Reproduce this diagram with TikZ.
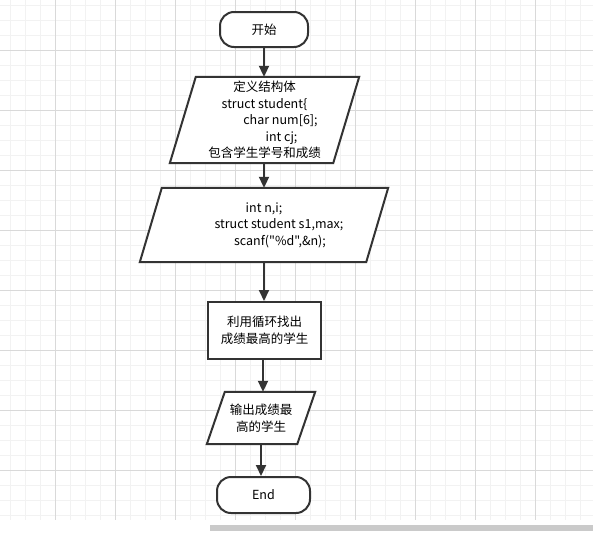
\documentclass[tikz,border=0pt]{standalone}
\usepackage{fontspec}
\newfontfamily\cjkfont{Noto Sans CJK SC}
\usetikzlibrary{arrows.meta}
\pgfdeclarelayer{bg}
\pgfdeclarelayer{mid}
\pgfsetlayers{bg,mid,main}
\definecolor{ink}{HTML}{333333}
\definecolor{gminor}{HTML}{F2F2F2}
\definecolor{gmajor}{HTML}{D9D9D9}
\definecolor{sbar}{HTML}{CACACA}
\begin{document}
\begin{tikzpicture}[x=1pt,y=-1pt,
  font=\cjkfont\fontsize{12.5}{16.5}\selectfont,
  term/.style={draw=ink, line width=2pt, fill=white, rounded corners=14pt, inner sep=0pt},
  box/.style={draw=ink, line width=2pt, fill=white, inner sep=0pt, align=center},
  plain/.style={inner sep=0pt, align=center},
  flow/.style={draw=ink, line width=2pt, -{Triangle[width=10pt,length=11pt]}},
  para/.style={draw=ink, line width=2pt, fill=white, line join=miter}]
\useasboundingbox (0,0) rectangle (593,536);
% grid
\begin{pgfonlayer}{bg}
  \fill[white] (0,0) rectangle (593,536);
  \foreach \x in {10,25,...,590} \draw[gminor, line width=0.8pt] (\x,0) -- (\x,520);
  \foreach \y in {5,20,...,515} \draw[gminor, line width=0.8pt] (0,\y) -- (593,\y);
  \foreach \x in {55,115,...,535} \draw[gmajor, line width=0.9pt] (\x,0) -- (\x,520);
  \foreach \y in {50,110,...,470} \draw[gmajor, line width=0.9pt] (0,\y) -- (593,\y);
  \fill[sbar] (210,524.5) rectangle (593,531);
\end{pgfonlayer}
% nodes
\node[term, minimum width=88pt, minimum height=35pt] (start) at (264,29.5) {开始};
\node[plain, minimum width=189pt, minimum height=86pt] (def) at (264.5,120)
  {定义结构体\\struct student\{\\\hspace*{32pt}char num[6];\\\hspace*{34pt}int cj;\\包含学生学号和成绩};
\node[plain, minimum width=248pt, minimum height=74pt] (inp) at (264,225)
  {int n,i;\\\hspace*{30pt}struct student s1,max;\\\hspace*{32pt}scanf("\%d",\&n);};
\node[box, minimum width=113pt, minimum height=57pt] (loop) at (264.5,330.5)
  {利用循环找出\\成绩最高的学生};
\node[plain, minimum width=108pt, minimum height=52pt] (out) at (261,418)
  {输出成绩最\\高的学生};
\node[term, minimum width=93pt, minimum height=36pt] (end) at (263.5,495) {End};
% parallelograms
\begin{pgfonlayer}{mid}
  \draw[para] ([xshift=26pt]def.north west) -- (def.north east) -- ([xshift=-26pt]def.south east) -- (def.south west) -- cycle;
  \draw[para] ([xshift=22pt]inp.north west) -- (inp.north east) -- ([xshift=-22pt]inp.south east) -- (inp.south west) -- cycle;
  \draw[para] ([xshift=18pt]out.north west) -- (out.north east) -- ([xshift=-18pt]out.south east) -- (out.south west) -- cycle;
\end{pgfonlayer}
% connectors
\draw[flow] (start.south) -- (start.south |- def.north);
\draw[flow] (def.south -| start.south) -- (inp.north -| start.south);
\draw[flow] (inp.south) -- (inp.south |- loop.north);
\draw[flow] (loop.south) ++(-1.5pt,0) coordinate (ls) -- (ls |- out.north);
\draw[flow] (out.south) -- (out.south |- end.north);
\end{tikzpicture}
\end{document}
